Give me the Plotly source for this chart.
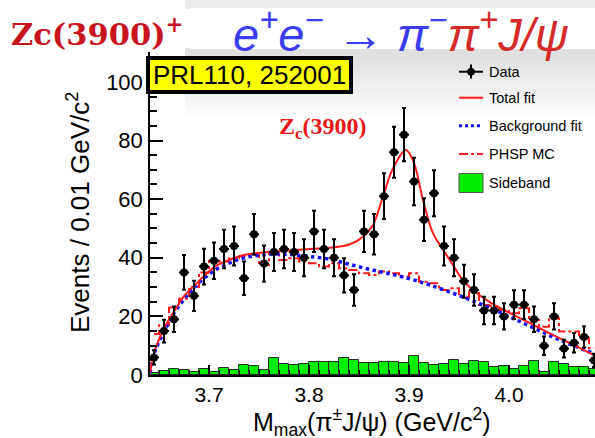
import numpy as np
import plotly.graph_objects as go

# ---------------- data ----------------
bin_centers = [round(3.645 + 0.01 * k, 3) for k in range(45)]
data_counts = [6, 15, 19, 35, 27, 37, 39, 43, 44, 33, 48, 38, 42, 43, 42,
               40, 49, 43, 40, 34, 29, 49, 48, 61, 76, 82, 66, 53, 62,
               44, 40, 32, 29, 22, 22, 20, 24, 24, 19, 10, 20, 9, 11, 13, 5]
sideband = [0.6, 1.2, 2.0, 1.7, 0.9, 2.0, 1.1, 2.5, 1.8, 3.4, 3.0, 1.8, 5.7,
            3.7, 3.5, 3.7, 4.5, 4.5, 4.5, 5.7, 5.2, 4.1, 4.1, 4.5, 4.5, 4.1,
            6.4, 4.1, 3.4, 3.7, 5.1, 3.7, 4.9, 4.3, 2.6, 3.0, 2.0, 3.2, 4.9,
            1.1, 4.3, 3.7, 2.6, 2.6, 2.0]
phsp_mc = [14, 17, 23, 26, 30, 35, 39, 38.7, 39.8, 40.5, 41, 37.5, 41.5, 39.2,
           39.8, 38.7, 38.1, 37, 38.1, 36.4, 35.8, 34.7, 34.1, 35.3, 34.7, 33.5,
           34.7, 31.8, 31.3, 29, 29.6, 26.7, 28.4, 23.9, 23.5, 22.2, 21.1, 22.8,
           18.8, 16.5, 19.4, 14.8, 14.8, 12.5, 9.1]

total_x = [3.641, 3.646, 3.656, 3.666, 3.676, 3.686, 3.696, 3.706, 3.716, 3.726,
           3.736, 3.746, 3.756, 3.766, 3.776, 3.801, 3.821, 3.841, 3.854, 3.864,
           3.874, 3.884, 3.897, 3.905, 3.914, 3.924, 3.934, 3.944, 3.954, 3.968,
           3.984, 4.001, 4.018, 4.034, 4.051, 4.068, 4.086]
total_y = [0.8, 8.5, 16.5, 22.2, 27.3, 30.7, 34.1, 37, 38.7, 40, 41, 41.5, 41.9,
           42.1, 42.4, 43, 43.4, 44.6, 47.2, 51.2, 60.9, 70.5, 76.8, 72.3, 59.7,
           48.4, 42.8, 37.5, 32.3, 27.9, 24.2, 21.1, 18.2, 15.4, 12.5, 9.7, 6.6]

bg_x = [3.641, 3.646, 3.656, 3.666, 3.676, 3.686, 3.696, 3.706, 3.716, 3.726,
        3.736, 3.746, 3.756, 3.766, 3.776, 3.786, 3.801, 3.821, 3.841, 3.861,
        3.881, 3.901, 3.921, 3.951, 3.984, 4.018, 4.051, 4.086]
bg_y = [0.6, 8, 15.4, 21.6, 26.2, 30.1, 33.3, 35.8, 37.5, 39, 40, 40.7, 41.1,
        41.3, 41.2, 41.0, 40.4, 39.5, 37.7, 36.0, 34.5, 32.8, 30.7, 27, 22.4,
        17.1, 11.9, 7.2]

x_ticks = [3.7, 3.8, 3.9, 4.0]
x_tick_labels = ["3.7", "3.8", "3.9", "4.0"]
y_ticks = [0, 20, 40, 60, 80, 100]

# ---------------- helpers for placing decorations ----------------
L, R, T, B = 150, 595, 52, 375
W, H = R - L, B - T


def px(x):
    return (x - L) / W


def py(y):
    return (B - y) / H


RED = "#ff1a1a"
BLUE = "#1010ff"
GREEN = "#00ee00"

fig = go.Figure()

fig.add_trace(go.Bar(x=bin_centers, y=sideband, width=0.01,
                     marker=dict(color=GREEN, line=dict(color="#2a2a2a", width=1)),
                     showlegend=False))
fig.add_trace(go.Scatter(x=bin_centers, y=phsp_mc, mode="lines",
                         line=dict(color=RED, width=2, dash="dashdot", shape="hvh"),
                         showlegend=False))
fig.add_trace(go.Scatter(x=bg_x, y=bg_y, mode="lines",
                         line=dict(color=BLUE, width=3.5, dash="dot", shape="spline"),
                         showlegend=False))
fig.add_trace(go.Scatter(x=total_x, y=total_y, mode="lines",
                         line=dict(color=RED, width=2, shape="spline"),
                         showlegend=False))
fig.add_trace(go.Scatter(
    x=bin_centers, y=data_counts, mode="markers",
    marker=dict(color="black", size=8),
    error_x=dict(type="constant", value=0.005, width=0, thickness=2, color="black"),
    error_y=dict(type="data", array=list(np.sqrt(data_counts)), width=2,
                 thickness=2, color="black"),
    showlegend=False))

shapes = []
# shadow around banner
for i in range(8):
    shapes.append(dict(type="rect", xref="paper", yref="paper", layer="below",
                       x0=px(185), x1=px(600), y0=py(48), y1=py(52 + 8 * (i + 1)),
                       fillcolor="gray", opacity=0.035, line=dict(width=0)))
shapes.append(dict(type="rect", xref="paper", yref="paper", layer="below",
                   x0=px(185), x1=px(600), y0=py(0), y1=py(9),
                   fillcolor="gray", opacity=0.15, line=dict(width=0)))
# banner
shapes.append(dict(type="rect", xref="paper", yref="paper", layer="above",
                   x0=px(190), x1=px(600), y0=py(8), y1=py(49),
                   fillcolor="white", line=dict(width=0)))
# yellow reference box
shapes.append(dict(type="rect", xref="paper", yref="paper", layer="above",
                   x0=px(148), x1=px(351), y0=py(58), y1=py(92),
                   fillcolor="#ffff00", line=dict(color="black", width=4)))
# legend symbols
lx0, lx1 = px(459), px(483)
shapes += [
    dict(type="line", xref="paper", yref="paper", x0=lx0, x1=lx1, y0=py(71.7), y1=py(71.7),
         line=dict(color="black", width=2)),
    dict(type="line", xref="paper", yref="paper", x0=px(471), x1=px(471), y0=py(64.5), y1=py(78.5),
         line=dict(color="black", width=2)),
    dict(type="circle", xref="paper", yref="paper", x0=px(467.5), x1=px(474.5),
         y0=py(68.2), y1=py(75.2), fillcolor="black", line=dict(color="black", width=1)),
    dict(type="line", xref="paper", yref="paper", x0=lx0, x1=lx1, y0=py(97.7), y1=py(97.7),
         line=dict(color=RED, width=2)),
    dict(type="line", xref="paper", yref="paper", x0=lx0, x1=lx1, y0=py(125.7), y1=py(125.7),
         line=dict(color=BLUE, width=3, dash="dot")),
    dict(type="line", xref="paper", yref="paper", x0=lx0, x1=lx1, y0=py(154), y1=py(154),
         line=dict(color=RED, width=2, dash="dashdot")),
    dict(type="rect", xref="paper", yref="paper", x0=lx0, x1=lx1, y0=py(173.5), y1=py(192.5),
         fillcolor=GREEN, line=dict(color="#555555", width=1)),
]

ann = []


def add_text(text, x, y, size, color="black", family="Liberation Sans", xanchor="left",
             angle=0):
    ann.append(dict(text=text, xref="paper", yref="paper", x=px(x), y=py(y),
                    xanchor=xanchor, yanchor="middle", showarrow=False, textangle=angle,
                    font=dict(size=size, color=color, family=family)))


for lbl, yy in [("Data", 71.7), ("Total fit", 97.7), ("Background fit", 125.7),
                ("PHSP MC", 154), ("Sideband", 183)]:
    add_text(lbl, 487, yy, 14.5)

add_text("PRL110, 252001", 249.5, 75.5, 26, xanchor="center")
add_text("<b>Z<sub>c</sub>(3900)</b>", 322, 128, 24, color="#e81818",
         family="Liberation Serif", xanchor="center")
add_text("<b>Zc(3900)<sup>+</sup></b>", 9, 32, 30.5, color="#c8141c",
         family="DejaVu Serif", xanchor="left")
add_text('<i><span style="color:#3b3bf0">e<sup>+</sup>e<sup>−</sup> → π<sup>−</sup></span>'
         '<span style="color:#d42a2a">π<sup>+</sup>J/ψ</span></i>',
         401, 31, 47, xanchor="center")
add_text("Events / 0.01 GeV/c<sup>2</sup>", 78, 213, 26, xanchor="center", angle=-90)
add_text("M<sub>max</sub>(π<sup>±</sup>J/ψ) (GeV/c<sup>2</sup>)", 371.5, 422, 25,
         xanchor="center")

fig.update_layout(
    width=595, height=438,
    margin=dict(l=L, r=595 - R, t=T, b=438 - B, pad=0, autoexpand=False),
    paper_bgcolor="white", plot_bgcolor="rgba(0,0,0,0)",
    bargap=0, showlegend=False,
    shapes=shapes, annotations=ann,
    font=dict(family="Liberation Sans", color="black"),
)
fig.update_xaxes(range=[3.641, 4.086], tickvals=x_ticks, ticktext=x_tick_labels,
                 automargin=False,
                 ticks="inside", ticklen=10, tickwidth=1.5, tickcolor="black",
                 minor=dict(dtick=0.01, tick0=3.64, ticks="inside", ticklen=5,
                            tickcolor="black", tickwidth=1),
                 showline=True, linecolor="black", linewidth=1.5, showgrid=False,
                 zeroline=False, tickfont=dict(size=21, family="Liberation Sans"),
                 ticklabelstandoff=0)
fig.update_yaxes(range=[0, 110.2], tickvals=y_ticks, automargin=False,
                 ticks="inside", ticklen=13, tickwidth=1.5, tickcolor="black",
                 minor=dict(dtick=5, tick0=0, ticks="inside", ticklen=7,
                            tickcolor="black", tickwidth=1.5),
                 showline=True, linecolor="black", linewidth=1.5, showgrid=False,
                 zeroline=False, tickfont=dict(size=22, family="Liberation Sans"),
                 ticklabelstandoff=1)

fig.write_html("out.html", config={"displayModeBar": False},
               post_script="document.body.style.margin='0';document.body.style.padding='0';")
